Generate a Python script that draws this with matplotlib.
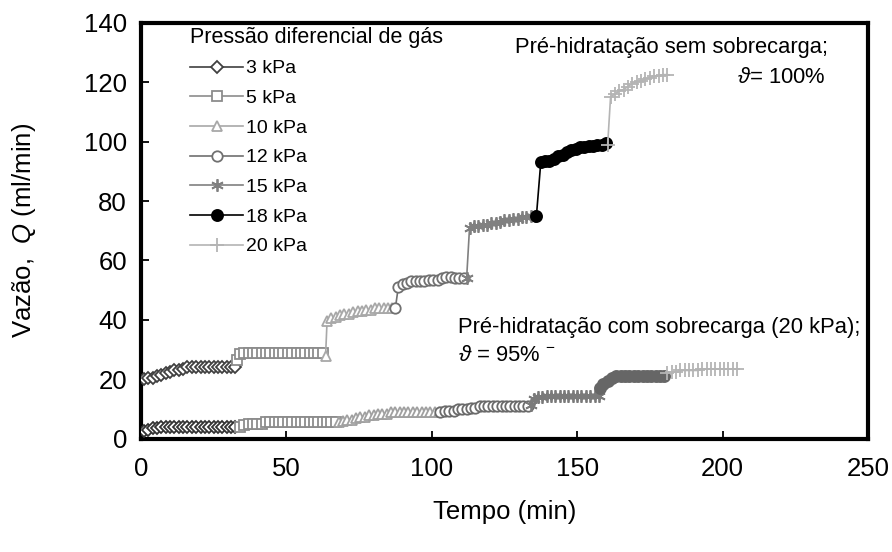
import matplotlib
matplotlib.use("Agg")
import matplotlib.pyplot as plt

plt.rcParams['font.family'] = ['Liberation Sans', 'DejaVu Sans']
plt.rcParams['mathtext.fontset'] = 'custom'
plt.rcParams['mathtext.rm'] = 'Liberation Sans'
plt.rcParams['mathtext.it'] = 'Liberation Sans:italic'

labels = ['3 kPa', '5 kPa', '10 kPa', '12 kPa', '15 kPa', '18 kPa', '20 kPa']

# Pré-hidratação sem sobrecarga (upper curve)
t_u_3 = [1, 2.5, 4, 5.5, 7, 8.5, 10, 11.5, 13, 14.5, 16, 17.5, 19, 20.5, 22, 23.5, 25, 26.5, 28, 29.5, 31, 32.5]
q_u_3 = [20.0, 20.5, 20.5, 21.0, 21.5, 22.0, 22.5, 23.0, 23.0, 23.5, 24.0, 24.0, 24.0, 24.0, 24.0, 24.0, 24.0, 24.0, 24.0, 24.0, 24.0, 24.0]
t_u_5 = [33, 34, 35.5, 37, 38.5, 40, 41.5, 43, 44.5, 46, 47.5, 49, 50.5, 52, 53.5, 55, 56.5, 58, 59.5, 61, 62.5]
q_u_5 = [26.5, 28.5, 29.0, 29.0, 29.0, 29.0, 29.0, 29.0, 29.0, 29.0, 29.0, 29.0, 29.0, 29.0, 29.0, 29.0, 29.0, 29.0, 29.0, 29.0, 29.0]
t_u_10 = [63.5, 64, 65.5, 67, 68.5, 70, 71.5, 73, 74.5, 76, 77.5, 79, 80.5, 82, 83.5, 85, 86.5]
q_u_10 = [28.0, 39.5, 40.5, 41.0, 41.5, 42.0, 42.0, 42.5, 43.0, 43.0, 43.5, 43.5, 44.0, 44.0, 44.0, 44.0, 44.0]
t_u_12 = [87.5, 88.5, 90, 91.5, 93, 94.5, 96, 97.5, 99, 100.5, 102, 103.5, 105, 106.5, 108, 109.5, 111]
q_u_12 = [44.0, 51.0, 52.0, 52.5, 53.0, 53.0, 53.0, 53.0, 53.5, 53.5, 53.5, 54.0, 54.5, 54.5, 54.0, 54.0, 54.0]
t_u_15 = [112, 113, 114.5, 116, 117.5, 119, 120.5, 122, 123.5, 125, 126.5, 128, 129.5, 131, 132.5, 134, 135.5]
q_u_15 = [54.0, 71.0, 71.5, 71.5, 72.0, 72.0, 72.5, 72.5, 73.0, 73.5, 73.5, 74.0, 74.0, 74.5, 74.5, 75.0, 75.0]
t_u_18 = [136, 137.5, 139, 140.5, 142, 143.5, 145, 146.5, 148, 149.5, 151, 152.5, 154, 155.5, 157, 158.5, 160]
q_u_18 = [75.0, 93.0, 93.5, 93.5, 94.0, 95.0, 95.5, 96.5, 97.0, 97.5, 98.0, 98.0, 98.5, 98.5, 99.0, 99.0, 99.5]
t_u_20 = [160.5, 161.5, 163, 164.5, 166, 167.5, 169, 170.5, 172, 173.5, 175, 176.5, 178, 179.5, 181]
q_u_20 = [99.0, 115.0, 116.0, 117.0, 117.5, 118.5, 119.5, 120.0, 120.5, 121.0, 121.5, 122.0, 122.0, 122.5, 122.5]

# Pré-hidratação com sobrecarga (lower curve)
t_l_3 = [1, 2.5, 4, 5.5, 7, 8.5, 10, 11.5, 13, 14.5, 16, 17.5, 19, 20.5, 22, 23.5, 25, 26.5, 28, 29.5, 31, 32.5]
q_l_3 = [2.5, 3.0, 3.5, 3.5, 4.0, 4.0, 4.0, 4.0, 4.0, 4.0, 4.0, 4.0, 4.0, 4.0, 4.0, 4.0, 4.0, 4.0, 4.0, 4.0, 4.0, 4.0]
t_l_5 = [34, 35.5, 37, 38.5, 40, 41.5, 43, 44.5, 46, 47.5, 49, 50.5, 52, 53.5, 55, 56.5, 58, 59.5, 61, 62.5, 64, 65.5, 67]
q_l_5 = [4.0, 4.5, 5.0, 5.0, 5.0, 5.0, 5.5, 5.5, 5.5, 5.5, 5.5, 5.5, 5.5, 5.5, 5.5, 5.5, 5.5, 5.5, 5.5, 5.5, 5.5, 5.5, 5.5]
t_l_10 = [68, 69.5, 71, 72.5, 74, 75.5, 77, 78.5, 80, 81.5, 83, 84.5, 86, 87.5, 89, 90.5, 92, 93.5, 95, 96.5, 98, 99.5, 101, 102.5]
q_l_10 = [5.5, 6.0, 6.5, 6.5, 7.0, 7.5, 7.5, 8.0, 8.0, 8.5, 8.5, 8.5, 9.0, 9.0, 9.0, 9.0, 9.0, 9.0, 9.0, 9.0, 9.0, 9.0, 9.0, 9.0]
t_l_12 = [103, 104.5, 106, 107.5, 109, 110.5, 112, 113.5, 115, 116.5, 118, 119.5, 121, 122.5, 124, 125.5, 127, 128.5, 130, 131.5, 133]
q_l_12 = [9.0, 9.5, 9.5, 9.5, 10.0, 10.0, 10.0, 10.5, 10.5, 11.0, 11.0, 11.0, 11.0, 11.0, 11.0, 11.0, 11.0, 11.0, 11.0, 11.0, 11.0]
t_l_15 = [134, 135, 136.5, 138, 139.5, 141, 142.5, 144, 145.5, 147, 148.5, 150, 151.5, 153, 154.5, 156, 157.5]
q_l_15 = [11.5, 13.5, 14.0, 14.0, 14.5, 14.5, 14.5, 14.5, 14.5, 14.5, 14.5, 14.5, 14.5, 14.5, 14.5, 14.5, 14.5]
t_l_18 = [158, 159, 160.5, 162, 163.5, 165, 166.5, 168, 169.5, 171, 172.5, 174, 175.5, 177, 178.5, 180]
q_l_18 = [17.0, 18.5, 19.5, 20.5, 21.0, 21.0, 21.0, 21.0, 21.0, 21.0, 21.0, 21.0, 21.0, 21.0, 21.0, 21.0]
t_l_20 = [181, 182.5, 184, 185.5, 187, 188.5, 190, 191.5, 193, 194.5, 196, 197.5, 199, 200.5, 202, 203.5, 205]
q_l_20 = [22.0, 22.5, 22.5, 23.0, 23.0, 23.0, 23.0, 23.0, 23.5, 23.5, 23.5, 23.5, 23.5, 23.5, 23.5, 23.5, 23.5]

upper = [(t_u_3, q_u_3), (t_u_5, q_u_5), (t_u_10, q_u_10), (t_u_12, q_u_12),
         (t_u_15, q_u_15), (t_u_18, q_u_18), (t_u_20, q_u_20)]
lower = [(t_l_3, q_l_3), (t_l_5, q_l_5), (t_l_10, q_l_10), (t_l_12, q_l_12),
         (t_l_15, q_l_15), (t_l_18, q_l_18), (t_l_20, q_l_20)]

markers = ['D', 's', '^', 'o', (6, 2, 0), 'o', '+']
msizes = [6.5, 7, 7.5, 7.5, 9, 8, 10]
col_up = ['#404040', '#8c8c8c', '#a8a8a8', '#707070', '#808080', '#000000', '#b4b4b4']
col_lo = ['#333333', '#8c8c8c', '#a0a0a0', '#6a6a6a', '#7a7a7a', '#666666', '#b4b4b4']
filled = [False, False, False, False, True, True, True]

fig = plt.figure(figsize=(8.92, 5.52), dpi=100)
ax = fig.add_axes([0.158, 0.205, 0.815, 0.754])

handles = []
for i, (t, q) in enumerate(upper):
    fc = col_up[i] if filled[i] else 'white'
    h, = ax.plot(t, q, color=col_up[i], lw=1.2, marker=markers[i], ms=msizes[i],
                 mfc=fc, mec=col_up[i], mew=1.3, label=labels[i], zorder=3 + i)
    handles.append(h)

for i, (t, q) in enumerate(lower):
    fc = col_lo[i] if filled[i] else 'white'
    ax.plot(t, q, color=col_lo[i], lw=1.2, marker=markers[i], ms=msizes[i],
            mfc=fc, mec=col_lo[i], mew=1.3, zorder=3 + i)

ax.set_xlim(0, 250)
ax.set_ylim(0, 140)
ax.set_xticks([0, 50, 100, 150, 200, 250])
ax.set_yticks([0, 20, 40, 60, 80, 100, 120, 140])
ax.tick_params(direction='in', length=6, width=1.3, labelsize=18.5)
ax.tick_params(axis='x', pad=13)
ax.tick_params(axis='y', pad=10)
for s in ax.spines.values():
    s.set_linewidth(3)

ax.set_xlabel('Tempo (min)', fontsize=18.5, labelpad=14)
ax.set_ylabel(r'Vazão,  $\it{Q}$ (ml/min)', fontsize=18.5, labelpad=33)

leg = ax.legend(handles=handles, title='Pressão diferencial de gás', loc='upper left',
                bbox_to_anchor=(0.068, 0.99), frameon=False, fontsize=14,
                title_fontsize=15.5, handlelength=2.7, handletextpad=0.15,
                labelspacing=0.62, borderaxespad=0, borderpad=0, alignment='left')

ax.text(128.5, 131.5, 'Pré-hidratação sem sobrecarga;', fontsize=15.8, va='center', ha='left')
ax.text(235.5, 121.5, r'$\vartheta$= 100%', fontsize=15.8, va='center', ha='right')
ax.text(109, 37.3, 'Pré-hidratação com sobrecarga (20 kPa);', fontsize=15.8, va='center', ha='left')
ax.text(109, 28.2, r'$\vartheta$ = 95% $^{-}$', fontsize=15.8, va='center', ha='left')

fig.savefig('out.png', dpi=100)
